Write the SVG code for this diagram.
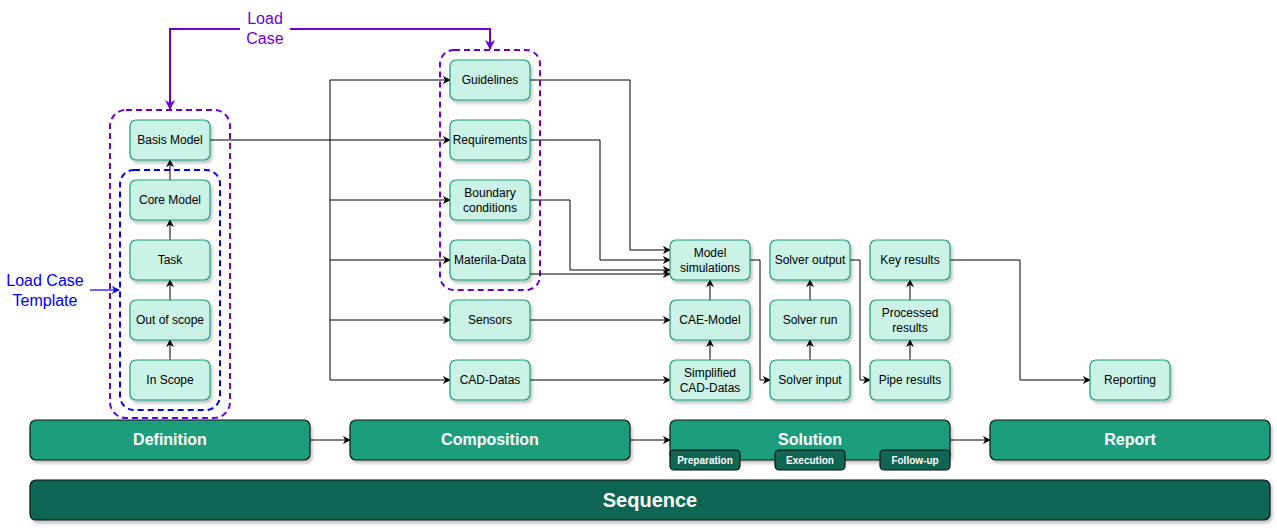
<svg xmlns="http://www.w3.org/2000/svg" width="1277" height="528" viewBox="0 0 1277 528">
<defs>
<filter id="sh" x="-10%" y="-10%" width="130%" height="140%"><feDropShadow dx="2" dy="3" stdDeviation="1.5" flood-color="#000" flood-opacity="0.22"/></filter>
<marker id="ar" viewBox="0 0 10 10" refX="9" refY="5" markerWidth="8" markerHeight="8" markerUnits="userSpaceOnUse" orient="auto"><path d="M0,0 L10,5 L0,10 L3,5 Z" fill="#000"/></marker>
<marker id="ap" viewBox="0 0 10 10" refX="9" refY="5" markerWidth="10" markerHeight="10" markerUnits="userSpaceOnUse" orient="auto"><path d="M0,0 L10,5 L0,10 L3,5 Z" fill="#6E00D6"/></marker>
<marker id="ab" viewBox="0 0 10 10" refX="9" refY="5" markerWidth="8" markerHeight="8" markerUnits="userSpaceOnUse" orient="auto"><path d="M0,0 L10,5 L0,10 L3,5 Z" fill="#0000FF"/></marker>
</defs>
<style>
.n rect{fill:#CAF2E7;stroke:#1A9E7C;stroke-width:1.2;filter:url(#sh)}
.n text{font-family:"Liberation Sans",Arial,sans-serif;font-size:12px;fill:#000;text-anchor:middle}
.p rect{fill:#1A9E7C;stroke:#111;stroke-width:1.2;filter:url(#sh)}
.p text{font-family:"Liberation Sans",Arial,sans-serif;font-size:16px;font-weight:bold;fill:#fff;text-anchor:middle}
.t rect{fill:#116553;stroke:#111;stroke-width:1.2}
.t text{font-family:"Liberation Sans",Arial,sans-serif;font-size:10px;font-weight:bold;fill:#fff;text-anchor:middle}
.c path{fill:none;stroke:#000;stroke-width:1}
.g{fill:none;stroke-width:2;stroke-dasharray:6 4}
</style>
<rect width="1277" height="528" fill="#fff"/>

<g id="groups">
<rect class="g" x="110" y="110" width="120" height="308" rx="16" stroke="#6E00D6"/>
<rect class="g" x="120" y="170" width="100" height="240" rx="14" stroke="#0000FF"/>
<rect class="g" x="440" y="50" width="100" height="240" rx="14" stroke="#6E00D6"/>
</g>

<g id="connectors" class="c">
<path d="M210,140 H450" marker-end="url(#ar)"/>
<path d="M330,80 V380"/>
<path d="M330,80 H450" marker-end="url(#ar)"/>
<path d="M330,200 H450" marker-end="url(#ar)"/>
<path d="M330,260 H450" marker-end="url(#ar)"/>
<path d="M330,320 H450" marker-end="url(#ar)"/>
<path d="M330,380 H450" marker-end="url(#ar)"/>
<path d="M530,80 H630 V250 H670" marker-end="url(#ar)"/>
<path d="M530,140 H600 V260 H670" marker-end="url(#ar)"/>
<path d="M530,200 H570 V270 H670" marker-end="url(#ar)"/>
<path d="M530,274 H670" marker-end="url(#ar)"/>
<path d="M530,320 H670" marker-end="url(#ar)"/>
<path d="M530,380 H670" marker-end="url(#ar)"/>
<path d="M710,360 V340" marker-end="url(#ar)"/>
<path d="M710,300 V280" marker-end="url(#ar)"/>
<path d="M750,260 H760 V380 H770" marker-end="url(#ar)"/>
<path d="M810,360 V340" marker-end="url(#ar)"/>
<path d="M810,300 V280" marker-end="url(#ar)"/>
<path d="M850,260 H860 V380 H870" marker-end="url(#ar)"/>
<path d="M910,360 V340" marker-end="url(#ar)"/>
<path d="M910,300 V280" marker-end="url(#ar)"/>
<path d="M950,260 H1020 V380 H1090" marker-end="url(#ar)"/>
<path d="M170,360 V340" marker-end="url(#ar)"/>
<path d="M170,300 V280" marker-end="url(#ar)"/>
<path d="M170,240 V220" marker-end="url(#ar)"/>
<path d="M170,180 V160" marker-end="url(#ar)"/>
<path d="M310,440 H350" marker-end="url(#ar)"/>
<path d="M630,440 H670" marker-end="url(#ar)"/>
<path d="M950,440 H990" marker-end="url(#ar)"/>
<path d="M170,60 V29 H490 V49" style="stroke:#6E00D6;stroke-width:2" marker-end="url(#ap)"/>
<path d="M170,60 V109" style="stroke:#6E00D6;stroke-width:2" marker-end="url(#ap)"/>
<path d="M90,290 H119" style="stroke:#0000FF;stroke-width:1.2" marker-end="url(#ab)"/>
</g>

<g id="lbl-loadcase">
<rect x="240" y="8" width="50" height="40" fill="#fff"/>
<text x="265" y="24" font-family="Liberation Sans,Arial,sans-serif" font-size="16" fill="#6E00D6" text-anchor="middle">Load</text>
<text x="265" y="44" font-family="Liberation Sans,Arial,sans-serif" font-size="16" fill="#6E00D6" text-anchor="middle">Case</text>
</g>
<g id="lbl-template">
<text x="45" y="286" font-family="Liberation Sans,Arial,sans-serif" font-size="16" fill="#0000FF" text-anchor="middle">Load Case</text>
<text x="45" y="306" font-family="Liberation Sans,Arial,sans-serif" font-size="16" fill="#0000FF" text-anchor="middle">Template</text>
</g>

<g id="basis" class="n"><rect x="130" y="120" width="80" height="40" rx="6"/><text x="170" y="144">Basis Model</text></g>
<g id="core" class="n"><rect x="130" y="180" width="80" height="40" rx="6"/><text x="170" y="204">Core Model</text></g>
<g id="task" class="n"><rect x="130" y="240" width="80" height="40" rx="6"/><text x="170" y="264">Task</text></g>
<g id="outscope" class="n"><rect x="130" y="300" width="80" height="40" rx="6"/><text x="170" y="324">Out of scope</text></g>
<g id="inscope" class="n"><rect x="130" y="360" width="80" height="40" rx="6"/><text x="170" y="384">In Scope</text></g>

<g id="guidelines" class="n"><rect x="450" y="60" width="80" height="40" rx="6"/><text x="490" y="84">Guidelines</text></g>
<g id="requirements" class="n"><rect x="450" y="120" width="80" height="40" rx="6"/><text x="490" y="144">Requirements</text></g>
<g id="boundary" class="n"><rect x="450" y="180" width="80" height="40" rx="6"/><text x="490" y="197">Boundary</text><text x="490" y="212">conditions</text></g>
<g id="material" class="n"><rect x="450" y="240" width="80" height="40" rx="6"/><text x="490" y="264">Materila-Data</text></g>
<g id="sensors" class="n"><rect x="450" y="300" width="80" height="40" rx="6"/><text x="490" y="324">Sensors</text></g>
<g id="cad" class="n"><rect x="450" y="360" width="80" height="40" rx="6"/><text x="490" y="384">CAD-Datas</text></g>

<g id="modelsim" class="n"><rect x="670" y="240" width="80" height="40" rx="6"/><text x="710" y="257">Model</text><text x="710" y="272">simulations</text></g>
<g id="cae" class="n"><rect x="670" y="300" width="80" height="40" rx="6"/><text x="710" y="324">CAE-Model</text></g>
<g id="simpcad" class="n"><rect x="670" y="360" width="80" height="40" rx="6"/><text x="710" y="377">Simplified</text><text x="710" y="392">CAD-Datas</text></g>

<g id="solverout" class="n"><rect x="770" y="240" width="80" height="40" rx="6"/><text x="810" y="264">Solver output</text></g>
<g id="solverrun" class="n"><rect x="770" y="300" width="80" height="40" rx="6"/><text x="810" y="324">Solver run</text></g>
<g id="solverin" class="n"><rect x="770" y="360" width="80" height="40" rx="6"/><text x="810" y="384">Solver input</text></g>

<g id="keyres" class="n"><rect x="870" y="240" width="80" height="40" rx="6"/><text x="910" y="264">Key results</text></g>
<g id="procres" class="n"><rect x="870" y="300" width="80" height="40" rx="6"/><text x="910" y="317">Processed</text><text x="910" y="332">results</text></g>
<g id="piperes" class="n"><rect x="870" y="360" width="80" height="40" rx="6"/><text x="910" y="384">Pipe results</text></g>

<g id="reporting" class="n"><rect x="1090" y="360" width="80" height="40" rx="6"/><text x="1130" y="384">Reporting</text></g>

<g id="definition" class="p"><rect x="30" y="420" width="280" height="40" rx="6"/><text x="170" y="445">Definition</text></g>
<g id="composition" class="p"><rect x="350" y="420" width="280" height="40" rx="6"/><text x="490" y="445">Composition</text></g>
<g id="solution" class="p"><rect x="670" y="420" width="280" height="40" rx="6"/><text x="810" y="445">Solution</text></g>
<g id="report" class="p"><rect x="990" y="420" width="280" height="40" rx="6"/><text x="1130" y="445">Report</text></g>

<g id="preparation" class="t"><rect x="670" y="450" width="70" height="20" rx="4"/><text x="705" y="464">Preparation</text></g>
<g id="execution" class="t"><rect x="775" y="450" width="70" height="20" rx="4"/><text x="810" y="464">Execution</text></g>
<g id="followup" class="t"><rect x="880" y="450" width="70" height="20" rx="4"/><text x="915" y="464">Follow-up</text></g>

<g id="sequence" class="p"><rect x="30" y="480" width="1240" height="40" rx="6" style="fill:#116553"/><text x="650" y="507" style="font-size:20px">Sequence</text></g>
</svg>
